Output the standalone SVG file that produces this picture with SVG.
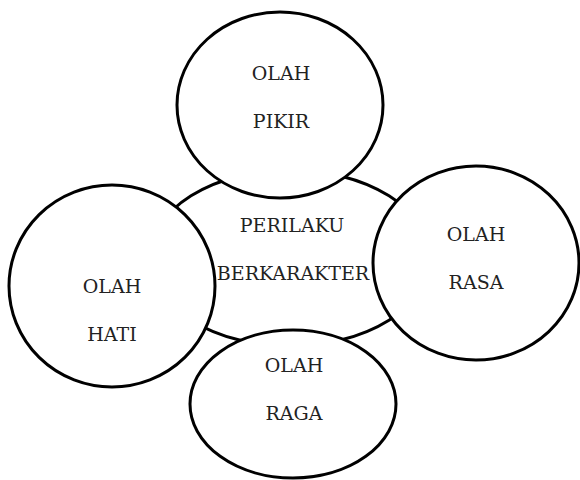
<svg xmlns="http://www.w3.org/2000/svg" width="580" height="480" viewBox="0 0 580 480">
<style>
.s{fill:#fff;stroke:#000;stroke-width:3}
.t{font-family:"DejaVu Serif","Liberation Serif",serif;font-size:19px;fill:#222;text-anchor:middle}
</style>
<rect width="580" height="480" fill="#fff"/>
<g id="perilaku">
<ellipse class="s" cx="290" cy="258" rx="140" ry="88"/>
<text class="t" x="292" y="232">PERILAKU</text>
<text class="t" x="293" y="280">BERKARAKTER</text>
</g>
<g id="connectors"></g>
<g id="pikir">
<ellipse class="s" cx="280" cy="105" rx="103" ry="93"/>
<text class="t" x="281" y="80">OLAH</text>
<text class="t" x="281" y="128">PIKIR</text>
</g>
<g id="hati">
<ellipse class="s" cx="112" cy="286" rx="103" ry="101"/>
<text class="t" x="112" y="293">OLAH</text>
<text class="t" x="112" y="341">HATI</text>
</g>
<g id="rasa">
<ellipse class="s" cx="476" cy="263" rx="103" ry="97"/>
<text class="t" x="476" y="241">OLAH</text>
<text class="t" x="476" y="289">RASA</text>
</g>
<g id="raga">
<ellipse class="s" cx="293" cy="404" rx="103" ry="74"/>
<text class="t" x="294" y="372">OLAH</text>
<text class="t" x="294" y="420">RAGA</text>
</g>
</svg>
